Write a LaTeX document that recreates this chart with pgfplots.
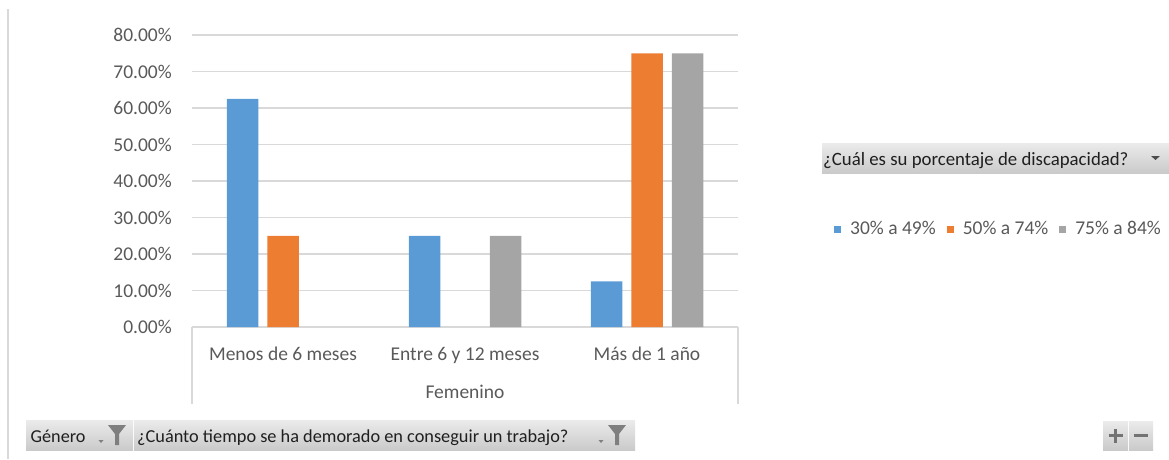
\documentclass[border=0pt]{standalone}
\usepackage{pgfplots}
\pgfplotsset{compat=1.18}
\usepackage{fontspec}
\setmainfont{Carlito}
\definecolor{cblue}{HTML}{5B9BD5}
\definecolor{corange}{HTML}{ED7D31}
\definecolor{cgray}{HTML}{A5A5A5}
\definecolor{gridc}{HTML}{D9D9D9}
\definecolor{tickc}{HTML}{595959}
\definecolor{btntop}{HTML}{EBEBEB}
\definecolor{btnbot}{HTML}{CACACA}
\definecolor{iconc}{HTML}{7F7F7F}
\definecolor{btntext}{HTML}{1F1F1F}
\pgfplotsset{sqlegend/.style={legend image code/.code={\fill[##1] (0pt,-3.5pt) rectangle (7pt,3.5pt);}}}
\newcommand{\funnel}[2]{\fill[iconc] (#1,#2) -- ++(18pt,0) -- ++(-7pt,-9pt) -- ++(0,-11pt) -- ++(-4pt,0) -- ++(0,11pt) -- cycle;}
\newcommand{\drop}[2]{\fill[iconc] (#1,#2) -- ++(5pt,0) -- ++(-2.5pt,-3pt) -- cycle;}
\begin{document}
\fontsize{19.5}{23}\selectfont
\begin{tikzpicture}
\path[use as bounding box] (0pt,0pt) rectangle (1169pt,459pt);
% left border
\draw[gridc, line width=2pt] (8pt,0pt) -- (8pt,450pt);
\begin{axis}[
  at={(192pt,132pt)}, anchor=south west,
  scale only axis, width=546pt, height=292pt,
  ybar=9pt, bar width=31.5pt,
  xmin=-0.5, xmax=2.5, ymin=0, ymax=80,
  axis line style={draw=none},
  ymajorgrids, major grid style={draw=gridc, line width=1.5pt},
  major tick length=0pt,
  ytick={0,10,...,80},
  yticklabels={0.00\%,10.00\%,20.00\%,30.00\%,40.00\%,50.00\%,60.00\%,70.00\%,80.00\%},
  xtick={0,1,2},
  xticklabels={Menos de 6 meses,Entre 6 y 12 meses,Más de 1 año},
  tick label style={text=tickc},
  yticklabel style={anchor=east, inner sep=0pt, xshift=-20pt},
  xticklabel style={anchor=base, inner sep=0pt, yshift=-33pt},
  xlabel={Femenino},
  xlabel style={at={(axis description cs:0.5,0)}, anchor=base, inner sep=0pt, yshift=-71pt, text=tickc},
  legend columns=3,
  legend style={draw=none, fill=none, at={(axis description cs:1.1758,0.3356)}, anchor=west, inner sep=0pt, text=tickc,
    /tikz/every odd column/.append style={column sep=7pt},
    /tikz/every even column/.append style={column sep=9pt}},
  clip=false,
]
\addplot[fill=cblue, draw=none, sqlegend] coordinates {(0,62.5) (1,25) (2,12.5)};
\addplot[fill=corange, draw=none, sqlegend] coordinates {(0,25) (2,75)};
\addplot[fill=cgray, draw=none, sqlegend] coordinates {(1,25) (2,75)};
\legend{30\% a 49\%,50\% a 74\%,75\% a 84\%}
\end{axis}
% category axis box lines
\draw[gridc, line width=1.5pt] (192pt,132pt) -- (192pt,55pt);
\draw[gridc, line width=1.5pt] (738pt,132pt) -- (738pt,55pt);
% bottom field buttons
\shade[top color=btntop, bottom color=btnbot] (26pt,9pt) rectangle (133pt,39pt);
\shade[top color=btntop, bottom color=btnbot] (134pt,9pt) rectangle (635pt,39pt);
\node[anchor=base west, inner sep=0pt, text=btntext, font=\fontsize{18.2}{21}\selectfont] at (30.5pt,16.5pt) {Género};
\node[anchor=base west, inner sep=0pt, text=btntext, font=\fontsize{18.3}{21}\selectfont] at (137pt,16.5pt) {¿Cuánto tiempo se ha demorado en conseguir un trabajo?};
\funnel{108pt}{34pt}
\drop{98.5pt}{19pt}
\funnel{608pt}{34pt}
\drop{598.5pt}{19pt}
% right field button
\shade[top color=btntop, bottom color=btnbot] (822pt,286pt) rectangle (1169pt,316pt);
\node[anchor=base west, inner sep=0pt, text=btntext, font=\fontsize{18.8}{21}\selectfont] at (823pt,294pt) {¿Cuál es su porcentaje de discapacidad?};
\fill[black!70] (1151pt,303pt) -- (1160pt,303pt) -- (1155.5pt,299pt) -- cycle;
% plus / minus buttons
\shade[top color=btntop, bottom color=btnbot] (1103pt,9pt) rectangle (1128pt,38pt);
\shade[top color=btntop, bottom color=btnbot] (1129pt,9pt) rectangle (1153pt,38pt);
\draw[black!55, line width=2.5pt] (1108.5pt,23.5pt) -- (1122.5pt,23.5pt) (1115.5pt,16.5pt) -- (1115.5pt,30.5pt);
\draw[black!55, line width=2.5pt] (1134pt,23.5pt) -- (1148pt,23.5pt);
\end{tikzpicture}
\end{document}
